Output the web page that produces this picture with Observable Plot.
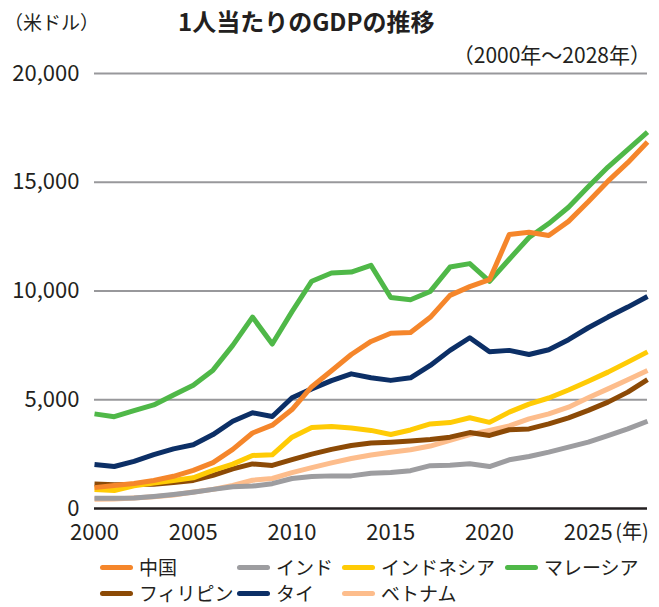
<!DOCTYPE html>
<html>
<head>
<meta charset="utf-8">
<script src="https://cdn.jsdelivr.net/npm/d3@7"></script>
<script src="https://cdn.jsdelivr.net/npm/@observablehq/plot@0.6"></script>
<style>
  body { margin: 0; background: #fff; font-family: "Noto Sans CJK JP", "Noto Sans", sans-serif; color: #231f20; }
  #wrap { width: 659px; height: 607px; position: relative; overflow: hidden; }
  #hdr { position: relative; height: 60px; }
  #unit { position: absolute; left: 4px; top: 8px; font-size: 19px; }
  #title { position: absolute; left: 178px; top: 3px; font-size: 24px; font-weight: bold; }
  #sub { position: absolute; right: 8px; top: 39px; font-size: 21px; }
  #legend { display: grid; grid-template-columns: 137px 105px 163px auto; padding-left: 100px; font-size: 19px; line-height: 26px; margin-top: 1px; }
  .item { display: flex; align-items: center; white-space: nowrap; }
  .sw { display: inline-block; width: 33px; height: 5px; border-radius: 3px; margin-right: 6px; }
</style>
</head>
<body>
<div id="wrap">
  <div id="hdr">
    <div id="unit">（米ドル）</div>
    <div id="title">1人当たりのGDPの推移</div>
    <div id="sub">（2000年～2028年）</div>
  </div>
  <div id="chart"></div>
  <div id="legend"></div>
</div>
<script>
const years = [2000,2001,2002,2003,2004,2005,2006,2007,2008,2009,2010,2011,2012,2013,2014,2015,2016,2017,2018,2019,2020,2021,2022,2023,2024,2025,2026,2027,2028];

const china     = [960,1060,1150,1290,1480,1750,2110,2720,3470,3830,4550,5600,6330,7080,7680,8060,8090,8790,9800,10200,10520,12600,12700,12550,13200,14100,15050,15900,16850];
const india     = [470,475,480,550,640,750,880,1000,1030,1140,1380,1470,1500,1500,1620,1650,1740,1970,1990,2060,1930,2240,2390,2590,2820,3050,3350,3660,4010];
const indonesia = [870,830,1040,1170,1290,1410,1750,2040,2440,2470,3280,3720,3770,3700,3590,3400,3610,3890,3950,4170,3960,4430,4800,5080,5450,5850,6270,6730,7200];
const malaysia  = [4350,4220,4500,4760,5220,5670,6360,7500,8800,7560,9050,10450,10830,10870,11180,9700,9600,9980,11100,11260,10440,11460,12460,13100,13850,14790,15700,16500,17300];
const philippines = [1130,1090,1100,1120,1200,1290,1520,1820,2050,1980,2250,2500,2720,2900,3010,3050,3100,3170,3280,3490,3360,3620,3660,3890,4170,4510,4890,5350,5920];
const thailand  = [2020,1930,2170,2480,2740,2930,3400,4010,4400,4230,5090,5500,5880,6190,6010,5890,6010,6580,7270,7850,7210,7270,7080,7300,7760,8310,8800,9260,9750];
const vietnam   = [420,440,480,540,620,760,880,1060,1300,1380,1650,1880,2100,2300,2460,2590,2700,2870,3130,3400,3590,3800,4120,4350,4660,5090,5500,5920,6350];

const legendOrder = ["中国","インド","インドネシア","マレーシア","フィリピン","タイ","ベトナム"];
const colors = {"中国":"#f5862b","インド":"#9d9da0","インドネシア":"#ffcb05","マレーシア":"#4fb848","フィリピン":"#8c4a06","タイ":"#0c2f66","ベトナム":"#fdbd8c"};
const seriesValues = {"中国":china,"インド":india,"インドネシア":indonesia,"マレーシア":malaysia,"フィリピン":philippines,"タイ":thailand,"ベトナム":vietnam};
const drawOrder = ["ベトナム","インド","フィリピン","インドネシア","タイ","マレーシア","中国"];

const yTicks = [0,5000,10000,15000,20000];
const gridTicks = [5000,10000,15000,20000];
const xTicks = [2000,2005,2010,2015,2020,2025];
const yearUnit = "(年)";

const rows = drawOrder.flatMap(name => years.map((yr, i) => ({name, year: yr, value: seriesValues[name][i]})));

const chart = Plot.plot({
  width: 659,
  height: 493,
  marginTop: 13,
  marginLeft: 94,
  marginRight: 12,
  marginBottom: 45,
  style: {fontFamily: '"Noto Sans CJK JP", "Noto Sans", sans-serif', fontSize: "22px", color: "#231f20", background: "transparent", overflow: "visible"},
  x: {domain: [2000, 2028]},
  y: {domain: [0, 20000]},
  marks: [
    Plot.ruleY(gridTicks, {stroke: "#98989b", strokeWidth: 2}),
    Plot.ruleY([0], {stroke: "#231f20", strokeWidth: 2.5}),
    Plot.axisY({ticks: yTicks, tickFormat: d3.format(","), tickSize: 0, tickPadding: 15, label: null}),
    Plot.axisX({ticks: xTicks, tickFormat: d => String(d), tickSize: 0, tickPadding: 16, label: null}),
    Plot.text([xTicks[xTicks.length - 1]], {x: d => d, y: () => 0, text: () => yearUnit, textAnchor: "start", lineAnchor: "top", dx: 27, dy: 16, fontSize: 20}),
    Plot.line(rows, {x: "year", y: "value", z: "name", stroke: d => colors[d.name], strokeWidth: 5, strokeLinejoin: "round", strokeLinecap: "butt"})
  ]
});
document.getElementById("chart").appendChild(chart);

const legend = document.getElementById("legend");
for (const name of legendOrder) {
  const item = document.createElement("div");
  item.className = "item";
  const sw = document.createElement("span");
  sw.className = "sw";
  sw.style.background = colors[name];
  const label = document.createElement("span");
  label.textContent = name;
  item.appendChild(sw);
  item.appendChild(label);
  legend.appendChild(item);
}
</script>
</body>
</html>
